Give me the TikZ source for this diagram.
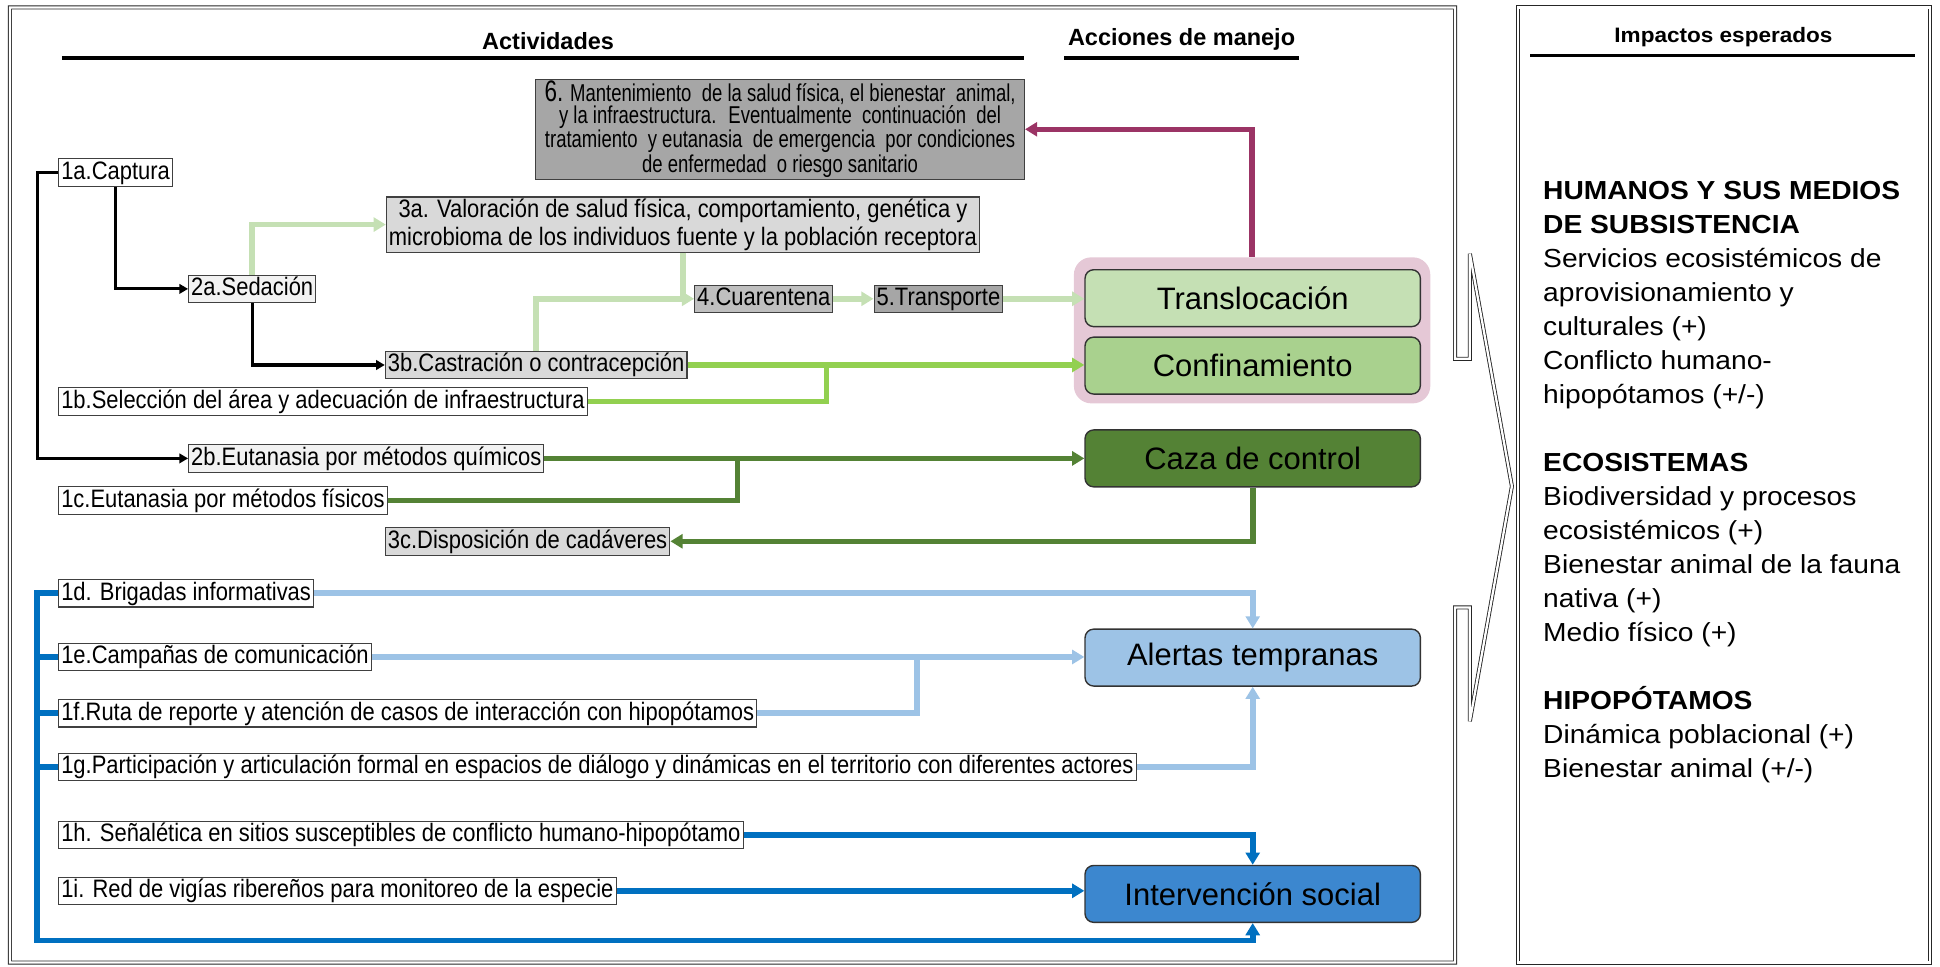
\documentclass[tikz,border=0pt]{standalone}
\usepackage{fontspec}
\setmainfont{Liberation Sans}
\newfontfamily\narrowfont[FakeStretch=0.87]{Liberation Sans}
\newfontfamily\narrowerfont[FakeStretch=0.76]{Liberation Sans}
\newfontfamily\widefont[FakeStretch=1.08]{Liberation Sans}
\usetikzlibrary{arrows.meta}

\definecolor{pinkbg}{HTML}{E5C8D6}
\definecolor{trasfill}{HTML}{C5E0B4}
\definecolor{conffill}{HTML}{A9D18E}
\definecolor{cazafill}{HTML}{548235}
\definecolor{alertfill}{HTML}{9DC3E6}
\definecolor{interfill}{HTML}{3C87CF}
\definecolor{lgline}{HTML}{C5E0B4}
\definecolor{grline}{HTML}{92D050}
\definecolor{dgline}{HTML}{548235}
\definecolor{mgline}{HTML}{9B3465}
\definecolor{lbline}{HTML}{9DC3E6}
\definecolor{blline}{HTML}{0070C0}

\begin{document}
\begin{tikzpicture}[
                x=0.025cm, y=-0.025cm,
                font=\narrowfont\fontsize{14.5}{15.5}\selectfont,
                >={Triangle[length=7pt,width=8pt]},
                act/.style={rectangle, draw=black!75, line width=0.6pt, fill=white, inner xsep=1.5pt, inner ysep=1pt, text height=10.8pt, text depth=3pt, anchor=west},
                actl/.style={act, fill=black!5},
                actm/.style={act, fill=black!15},
                actd/.style={act, fill=black!25},
                actk/.style={act, fill=black!35},
                accion/.style={rectangle, rounded corners=5pt, draw=black!80, line width=0.8pt, minimum width=6.775cm, minimum height=1.15cm, font=\rmfamily\fontsize{17.8}{20}\selectfont},
                hdr/.style={font=\rmfamily\bfseries\fontsize{13.5}{14}\selectfont},
                frame/.style={draw=black!85, line width=0.5pt, double=white, double distance=1.3pt},
                blk/.style={draw=black, line width=1.8pt, -{Triangle[length=5pt,width=5.5pt]}},
                lgr/.style={draw=lgline, line width=3.2pt},
                gr/.style={draw=grline, line width=3.2pt},
                dgr/.style={draw=dgline, line width=3.2pt},
                mag/.style={draw=mgline, line width=3pt},
                lbl/.style={draw=lbline, line width=3.2pt},
                blu/.style={draw=blline, line width=3.2pt}
            ]
                \useasboundingbox (0,0) rectangle (1568,781);

                % marcos
                \draw[frame] (8,6) -- (1176,6) -- (1176,290) -- (1188,290) -- (1188,205) -- (1222,393) -- (1188,583) -- (1188,491) -- (1176,491) -- (1176,778) -- (8,778) -- cycle;
                \draw[frame] (1227,6) rectangle (1560,778);

                % encabezados
                \node[hdr] (hAct) at (443,33) {Actividades};
                \node[hdr] (hAcc) at (955,32) {Acciones de manejo};
                \node[font=\widefont\bfseries\fontsize{12}{13}\selectfont] (hImp) at (1393,30) {Impactos esperados};
                \draw[line width=2pt] (50,47) -- (828,47);
                \draw[line width=2pt] (860,47) -- (1050,47);
                \draw[line width=2pt] (1237,45) -- (1548,45);

                % acciones de manejo
                \node[rectangle, rounded corners=10pt, fill=pinkbg, minimum width=7.2cm, minimum height=2.95cm] (grp) at (1012,267) {};
                \node[accion, fill=trasfill] (tras) at (1012.5,241) {Translocación};
                \node[accion, fill=conffill] (conf) at (1012.5,295.5) {Confinamiento};
                \node[accion, fill=cazafill] (caza) at (1012.5,370.5) {Caza de control};
                \node[accion, fill=alertfill] (alert) at (1012.5,531.5) {Alertas tempranas};
                \node[accion, fill=interfill] (inter) at (1012.5,722.5) {Intervención social};

                % actividades
                \node[actk, anchor=center, minimum width=9.875cm, minimum height=1.925cm, align=center, font=\narrowerfont\fontsize{14}{12.4}\selectfont, text height=, text depth=] (m6) at (630.5,104.5) {{\fontsize{17}{12}\selectfont 6.} Mantenimiento~ de la salud física, el bienestar~ animal,\\ y la infraestructura.~ Eventualmente~ continuación~ del\\ tratamiento~ y eutanasia~ de emergencia~ por condiciones\\ de enfermedad~ o riesgo sanitario};
                \node[act] (a1) at (47,139.5) {1a.Captura};
                \node[actm, anchor=center, align=center, font=\narrowfont\fontsize{14.5}{16}\selectfont, text height=, text depth=] (v3a) at (552,181.5) {3a. Valoración de salud física, comportamiento, genética y\\ microbioma de los individuos fuente y la población receptora};
                \node[actl] (s2) at (152,233.5) {2a.Sedación};
                \node[actd] (q4) at (561,241.5) {4.Cuarentena};
                \node[actk] (t5) at (706,241.5) {5.Transporte};
                \node[actm] (c3b) at (311,295) {3b.Castración o contracepción};
                \node[act] (s1b) at (47,324.5) {1b.Selección del área y adecuación de infraestructura};
                \node[actl] (e2b) at (152,370.5) {2b.Eutanasia por métodos químicos};
                \node[act] (f1c) at (47,404.5) {1c.Eutanasia por métodos físicos};
                \node[actm] (d3c) at (311,437.5) {3c.Disposición de cadáveres};
                \node[act] (b1d) at (47,479.5) {1d. Brigadas informativas};
                \node[act] (b1e) at (47,531) {1e.Campañas de comunicación};
                \node[act] (b1f) at (47,576.5) {1f.Ruta de reporte y atención de casos de interacción con hipopótamos};
                \node[act] (b1g) at (47,620) {1g.Participación y articulación formal en espacios de diálogo y dinámicas en el territorio con diferentes actores};
                \node[act] (b1h) at (47,675) {1h. Señalética en sitios susceptibles de conflicto humano-hipopótamo};
                \node[act] (b1i) at (47,720) {1i. Red de vigías ribereños para monitoreo de la especie};

                \coordinate (j2) at (668,295);
                \coordinate (j3) at (596,370.5);
                \coordinate (j4) at (741,531);
                \coordinate (j5) at (30,760);

                % conectores
                \draw[blk] (a1.west) -- ++(-17,0) |- (e2b.west);
                \draw[blk] (a1.south) |- (s2.west);
                \draw[blk] (s2.south) |- (c3b.west);

                \draw[lgr] (v3a.south) -- (v3a.south |- q4.west);
                \draw[lgr,->] (s2.north) |- (v3a.west);
                \draw[lgr,->] (c3b.north) |- (q4.west);
                \draw[lgr,->] (q4.east) -- (t5.west);
                \draw[lgr,->] (t5.east) -- (t5.east -| tras.west);

                \draw[gr] (s1b.east) -| (j2);
                \draw[gr,->] (c3b.east) -- (c3b.east -| conf.west);

                \draw[dgr] (f1c.east) -| (j3);
                \draw[dgr,->] (e2b.east) -- (e2b.east -| caza.west);
                \draw[dgr,->] (caza.south) |- (d3c.east);

                \draw[mag,->] (grp.north) |- (m6.east);

                \draw[lbl,->] (b1d.east) -| (alert.north);
                \draw[lbl] (b1f.east) -| (j4);
                \draw[lbl,->] (b1e.east) -- (b1e.east -| alert.west);
                \draw[lbl,->] (b1g.east) -| (alert.south);

                \draw[blu,->] (b1h.east) -| (inter.north);
                \draw[blu,->] (b1i.east) -- (b1i.east -| inter.west);
                \draw[blu,->] (b1d.west) -| (j5) -| (inter.south);
                \foreach \n in {b1e,b1f,b1g}
                    \draw[blu] (\n.west) -- (\n.west -| j5);

                % impactos esperados
                \node[anchor=north west, align=left, inner sep=0pt, font=\widefont\fontsize{15}{19.56}\selectfont] (imp) at (1247,146) {\textbf{HUMANOS Y SUS MEDIOS}\\ \textbf{DE SUBSISTENCIA}\\ Servicios ecosistémicos de\\ aprovisionamiento y\\ culturales (+)\\ Conflicto humano-\\ hipopótamos (+/-)\\[19.56pt] \textbf{ECOSISTEMAS}\\ Biodiversidad y procesos\\ ecosistémicos (+)\\ Bienestar animal de la fauna\\ nativa (+)\\ Medio físico (+)\\[19.56pt] \textbf{HIPOPÓTAMOS}\\ Dinámica poblacional (+)\\ Bienestar animal (+/-)};
            \end{tikzpicture}
\end{document}
